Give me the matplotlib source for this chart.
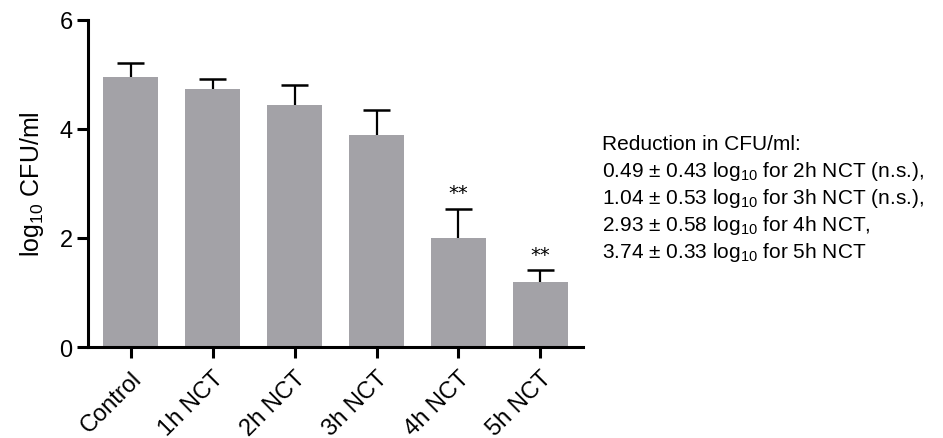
import matplotlib
matplotlib.use("Agg")
import matplotlib.pyplot as plt
import numpy as np

plt.rcParams['font.family'] = ['Liberation Sans', 'DejaVu Sans']
plt.rcParams['mathtext.fontset'] = 'custom'
plt.rcParams['mathtext.rm'] = 'Liberation Sans'
plt.rcParams['mathtext.it'] = 'Liberation Sans'

categories = ["Control", "1h NCT", "2h NCT", "3h NCT", "4h NCT", "5h NCT"]
means = [4.94, 4.72, 4.44, 3.89, 2.00, 1.19]
sd_up = [0.26, 0.19, 0.37, 0.46, 0.53, 0.22]
signif = ["", "", "", "", "**", "**"]
note_lines = [
    "Reduction in CFU/ml:",
    r"0.49 ± 0.43 log$_{10}$ for 2h NCT (n.s.),",
    r"1.04 ± 0.53 log$_{10}$ for 3h NCT (n.s.),",
    r"2.93 ± 0.58 log$_{10}$ for 4h NCT,",
    r"3.74 ± 0.33 log$_{10}$ for 5h NCT",
]

fig = plt.figure(figsize=(9.43, 4.39), dpi=100)
ax = fig.add_axes([0.0933, 0.207, 0.525, 0.746])

x = np.arange(len(categories))
means_a = np.array(means)
tops = means_a + np.array(sd_up)
ax.bar(x, means_a, width=0.67, color="#A3A2A7", zorder=2)
ax.vlines(x, means_a, tops, color="black", linewidth=1.6, zorder=3)
ax.hlines(tops, x - 0.165, x + 0.165, color="black", linewidth=1.8, zorder=3)
for xi, t, s in zip(x, tops, signif):
    if s:
        ax.text(xi, t + 0.12, s, ha="center", va="bottom", fontsize=14,
                family="DejaVu Sans")

ax.set_xlim(-0.52, 5.52)
ax.set_ylim(0, 6)
ax.set_yticks([0, 2, 4, 6])
ax.set_xticks(x)
ax.set_xticklabels(categories, rotation=45, ha="right", rotation_mode="anchor", fontsize=17)
ax.tick_params(axis="y", labelsize=17, width=2.2, length=8, pad=3)
ax.tick_params(axis="x", width=2.2, length=8, pad=6)
for sp in ["top", "right"]:
    ax.spines[sp].set_visible(False)
for sp in ["left", "bottom"]:
    ax.spines[sp].set_linewidth(2.2)
ax.set_ylabel(r"log$_{10}$ CFU/ml", fontsize=18, labelpad=10)

y0 = 145
for i, line in enumerate(note_lines):
    fig.text(602 / 943, 1 - (y0 + 26.8 * i) / 439, line, fontsize=15,
             ha="left", va="center")

fig.savefig("out.png", dpi=100)
